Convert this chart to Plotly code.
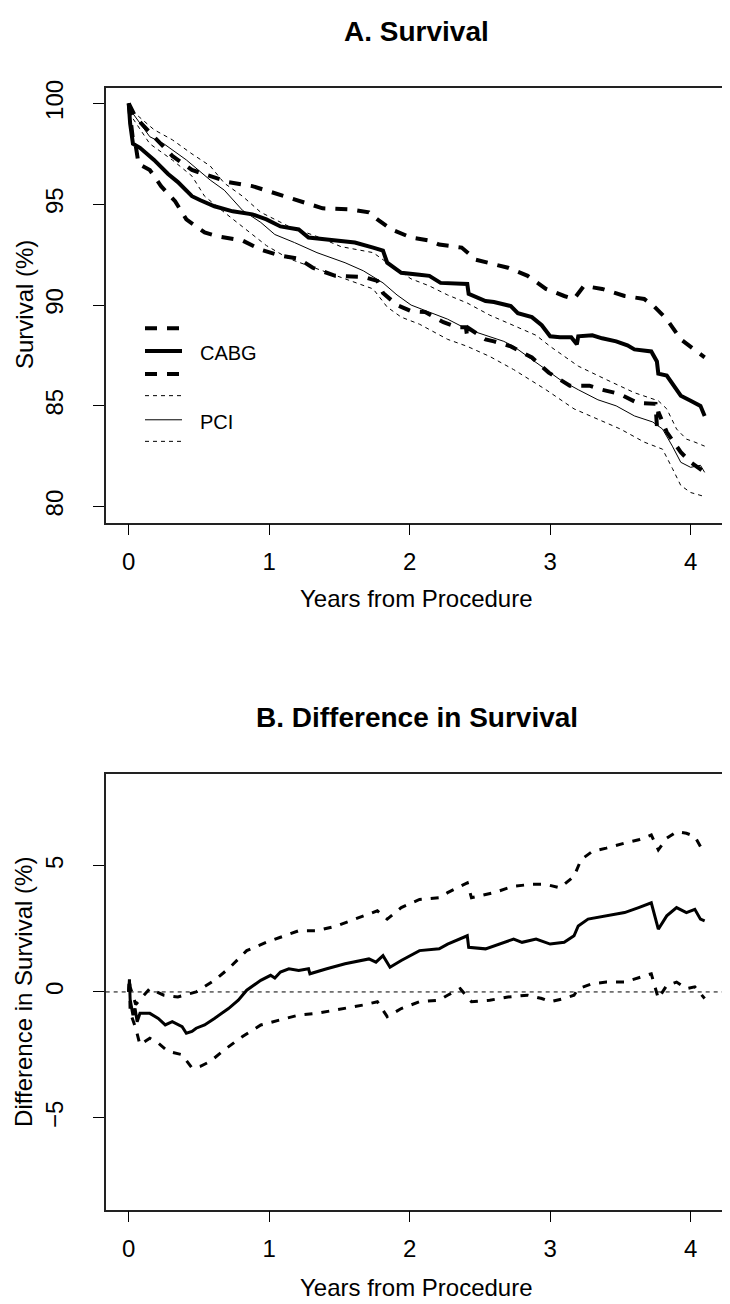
import plotly.graph_objects as go

# ---------------- data ----------------
# Panel A: Kaplan-Meier survival (%) with 95% CI
t_cabg = [0, 0.01, 0.03, 0.08, 0.18, 0.28, 0.35, 0.45, 0.51, 0.61, 0.74, 0.88, 0.98, 1.08, 1.21,
          1.28, 1.41, 1.61, 1.74, 1.81, 1.84, 1.94, 2.07, 2.14, 2.22, 2.41, 2.42, 2.54, 2.6, 2.72,
          2.77, 2.87, 2.94, 3.0, 3.07, 3.15, 3.19, 3.2, 3.3, 3.37, 3.47, 3.55, 3.6, 3.72, 3.76,
          3.77, 3.83, 3.9, 3.93, 4.0, 4.07, 4.1]
s_cabg = [100, 99.0, 98.0, 97.8, 97.2, 96.5, 96.1, 95.4, 95.2, 94.9, 94.65, 94.5, 94.25, 93.9, 93.75,
          93.35, 93.25, 93.1, 92.85, 92.7, 92.1, 91.6, 91.5, 91.45, 91.1, 91.05, 90.55, 90.2, 90.15, 89.95,
          89.6, 89.4, 89.0, 88.45, 88.4, 88.4, 88.05, 88.45, 88.5, 88.35, 88.2, 88.0, 87.8, 87.7, 87.2,
          86.6, 86.5, 85.8, 85.5, 85.25, 85.0, 84.5]

t_cabg_hi = [0, 0.05, 0.18, 0.31, 0.45, 0.58, 0.71, 0.88, 1.04, 1.21, 1.38, 1.57, 1.71, 1.77, 1.87,
             2.01, 2.14, 2.21, 2.37, 2.47, 2.7, 2.84, 2.97, 3.1, 3.17, 3.24, 3.37, 3.53, 3.67, 3.73,
             3.83, 3.93, 4.07, 4.1]
s_cabg_hi = [100, 99.3, 98.35, 97.4, 96.7, 96.4, 96.1, 95.9, 95.55, 95.2, 94.8, 94.75, 94.6, 94.25, 93.75,
             93.35, 93.2, 93.0, 92.85, 92.25, 91.85, 91.45, 90.8, 90.45, 90.3, 90.95, 90.8, 90.45, 90.3, 90.0,
             89.3, 88.3, 87.6, 87.4]

t_cabg_lo = [0, 0.03, 0.05, 0.07, 0.15, 0.23, 0.33, 0.41, 0.54, 0.64, 0.81, 0.94, 1.08, 1.21, 1.31,
             1.47, 1.67, 1.77, 1.81, 1.91, 2.01, 2.11, 2.24, 2.34, 2.40, 2.41, 2.42, 2.54, 2.6, 2.72,
             2.87, 2.99, 3.14, 3.28, 3.37, 3.49, 3.62, 3.75, 3.76, 3.77, 3.83, 3.93, 4.0, 4.1]
s_cabg_lo = [100, 98.2, 97.9, 97.0, 96.7, 95.9, 95.15, 94.25, 93.6, 93.4, 93.2, 92.75, 92.45, 92.3, 91.85,
             91.45, 91.4, 91.2, 90.6, 90.0, 89.7, 89.65, 89.15, 88.9, 88.9, 88.4, 88.85, 88.3, 88.2, 87.95,
             87.4, 86.65, 86.0, 86.0, 85.8, 85.6, 85.15, 85.1, 84.0, 84.7, 83.7, 82.7, 82.2, 81.7]

t_pci = [0, 0.03, 0.15, 0.25, 0.41, 0.58, 0.68, 0.81, 0.94, 1.04, 1.18, 1.34, 1.54, 1.67, 1.81,
         1.91, 2.01, 2.14, 2.27, 2.41, 2.54, 2.67, 2.74, 2.87, 2.94, 3.07, 3.2, 3.34, 3.47, 3.6,
         3.73, 3.8, 3.87, 3.93, 4.0, 4.07, 4.1]
s_pci = [100, 99.5, 98.35, 98.0, 97.2, 96.2, 95.7, 94.7, 94.1, 93.5, 93.1, 92.6, 92.1, 91.7, 91.1,
         90.5, 90.0, 89.65, 89.3, 88.8, 88.5, 88.2, 87.95, 87.3, 86.97, 86.3, 85.8, 85.3, 85.0, 84.5,
         84.2, 83.85, 83.0, 82.2, 81.95, 82.05, 81.7]

t_pci_hi = [0, 0.03, 0.18, 0.31, 0.45, 0.58, 0.68, 0.81, 0.94, 1.14, 1.34, 1.51, 1.74, 1.87, 2.01,
            2.14, 2.27, 2.41, 2.57, 2.74, 2.9, 3.0, 3.2, 3.4, 3.6, 3.77, 3.83, 3.9, 3.97, 4.03, 4.1]
s_pci_hi = [100, 99.6, 98.7, 98.2, 97.5, 96.9, 96.05, 95.4, 94.6, 93.9, 93.4, 92.9, 92.6, 91.95, 91.3,
            90.95, 90.5, 90.1, 89.5, 89.0, 88.5, 87.95, 86.97, 86.3, 85.65, 85.25, 84.85, 83.85, 83.35, 83.2, 83.0]

t_pci_lo = [0, 0.03, 0.15, 0.31, 0.45, 0.54, 0.68, 0.81, 0.98, 1.14, 1.34, 1.54, 1.74, 1.84, 1.94,
            2.07, 2.27, 2.41, 2.57, 2.74, 2.97, 3.17, 3.34, 3.5, 3.67, 3.8, 3.87, 3.93, 4.0, 4.1]
s_pci_lo = [100, 99.25, 98.0, 97.2, 96.4, 95.4, 94.6, 93.9, 92.95, 92.3, 91.8, 91.3, 90.8, 89.9, 89.4,
            89.05, 88.3, 87.95, 87.45, 86.8, 85.8, 84.85, 84.35, 83.85, 83.2, 82.85, 81.9, 81.05, 80.7, 80.5]

# Panel B: difference in survival (CABG - PCI, %) with 95% CI
t_diff = [0, 0.005, 0.01, 0.03, 0.045, 0.06, 0.08, 0.15, 0.21, 0.26, 0.31, 0.38, 0.41, 0.45, 0.48,
          0.54, 0.61, 0.71, 0.78, 0.84, 0.94, 1.01, 1.04, 1.08, 1.14, 1.21, 1.28, 1.29, 1.41, 1.54,
          1.71, 1.76, 1.81, 1.86, 1.94, 2.07, 2.21, 2.27, 2.41, 2.42, 2.54, 2.67, 2.74, 2.80, 2.90,
          3.0, 3.1, 3.17, 3.2, 3.27, 3.40, 3.53, 3.63, 3.72, 3.77, 3.83, 3.9, 3.97, 4.03, 4.07, 4.1]
d_diff = [0, 0.5, -0.3, -0.92, -0.66, -1.18, -0.85, -0.85, -1.05, -1.31, -1.18, -1.38, -1.64, -1.57, -1.44,
          -1.31, -1.05, -0.66, -0.33, 0.07, 0.46, 0.66, 0.55, 0.79, 0.92, 0.85, 0.92, 0.72, 0.92, 1.12,
          1.31, 1.18, 1.44, 0.98, 1.25, 1.64, 1.71, 1.9, 2.23, 1.77, 1.71, 1.97, 2.1, 1.97, 2.1,
          1.9, 1.97, 2.23, 2.62, 2.89, 3.02, 3.15, 3.35, 3.54, 2.49, 3.02, 3.35, 3.15, 3.28, 2.89, 2.82]

t_diff_hi = [0, 0.005, 0.01, 0.05, 0.15, 0.25, 0.35, 0.48, 0.61, 0.71, 0.84, 0.98, 1.08, 1.21, 1.34,
             1.48, 1.61, 1.77, 1.84, 1.94, 2.07, 2.21, 2.27, 2.41, 2.44, 2.6, 2.74, 2.87, 2.97, 3.07,
             3.17, 3.22, 3.3, 3.40, 3.53, 3.63, 3.72, 3.77, 3.83, 3.9, 3.97, 4.03, 4.07, 4.1]
d_diff_hi = [0, 0.5, 0.2, -0.5, 0.13, -0.13, -0.2, 0.0, 0.46, 0.92, 1.64, 1.97, 2.17, 2.43, 2.43,
             2.62, 2.89, 3.22, 2.89, 3.35, 3.67, 3.74, 3.94, 4.33, 3.74, 3.94, 4.2, 4.27, 4.27, 4.13,
             4.59, 5.25, 5.58, 5.71, 5.91, 6.04, 6.23, 5.64, 6.1, 6.36, 6.3, 6.17, 5.77, 5.91]

t_diff_lo = [0, 0.005, 0.01, 0.05, 0.08, 0.15, 0.21, 0.28, 0.38, 0.45, 0.51, 0.58, 0.68, 0.81, 0.94,
             1.08, 1.21, 1.34, 1.48, 1.67, 1.77, 1.84, 1.94, 2.07, 2.21, 2.27, 2.36, 2.44, 2.57, 2.7,
             2.84, 2.94, 3.0, 3.1, 3.17, 3.2, 3.3, 3.4, 3.53, 3.72, 3.77, 3.83, 3.9, 3.97, 4.03, 4.1]
d_diff_lo = [0, 0.5, -0.8, -1.44, -2.1, -1.84, -2.03, -2.36, -2.49, -3.02, -2.95, -2.76, -2.3, -1.77, -1.31,
             -1.12, -0.92, -0.85, -0.72, -0.52, -0.39, -0.98, -0.66, -0.39, -0.33, -0.13, 0.13, -0.39, -0.33, -0.2,
             -0.13, -0.26, -0.39, -0.26, -0.13, 0.13, 0.33, 0.39, 0.39, 0.72, -0.26, 0.26, 0.39, 0.13, 0.2, -0.26]

x_ticks = [0, 1, 2, 3, 4]
yA_ticks = [80, 85, 90, 95, 100]
yB_ticks = [-5, 0, 5]
legend_labels = ["", "CABG", "", "", "PCI", ""]

# ---------------- layout constants (page pixels) ----------------
PAGE_W, PAGE_H = 730, 1304
OFF = 8                      # default body margin of the html page
W, H = PAGE_W - OFF, PAGE_H - OFF
BOX_L, BOX_R = 105.7, 727.7
A_TOP, A_BOT = 80.0, 517.7
B_TOP, B_BOT = 771.0, 1209.0
FONT = "Liberation Sans, Arial, Helvetica, sans-serif"
X_STANDOFF, Y_STANDOFF = 6, 20


def px(x):
    return (x - OFF) / W


def py(y):
    return 1 - (y - OFF) / H


THICK_DASH = dict(color="black", width=4, dash="12px,10px")
THICK = dict(color="black", width=4)
THIN_DASH = dict(color="black", width=1, dash="4px,4px")
THIN = dict(color="black", width=1)
B_DASH = dict(color="black", width=3, dash="8px,9px")
B_SOLID = dict(color="black", width=3)

fig = go.Figure()

panelA = [
    (t_cabg_hi, s_cabg_hi, THICK_DASH),
    (t_cabg, s_cabg, THICK),
    (t_cabg_lo, s_cabg_lo, THICK_DASH),
    (t_pci_hi, s_pci_hi, THIN_DASH),
    (t_pci, s_pci, THIN),
    (t_pci_lo, s_pci_lo, THIN_DASH),
]
for (tx, sy, ln), lab in zip(panelA, legend_labels):
    fig.add_trace(go.Scatter(x=tx, y=sy, mode="lines", line=ln, name=lab,
                             showlegend=False, hoverinfo="skip", xaxis="x", yaxis="y"))

for tx, dy, ln in [(t_diff_hi, d_diff_hi, B_DASH), (t_diff, d_diff, B_SOLID), (t_diff_lo, d_diff_lo, B_DASH)]:
    fig.add_trace(go.Scatter(x=tx, y=dy, mode="lines", line=ln, showlegend=False,
                             hoverinfo="skip", xaxis="x2", yaxis="y2"))

axis_common = dict(
    showline=True, linecolor="#222222", linewidth=1.5, mirror=True,
    ticks="outside", ticklen=11, tickwidth=1, tickcolor="black",
    showgrid=False, zeroline=False,
    tickfont=dict(family=FONT, size=24, color="black"),
)

xrng = [-0.164, 4.264]
fig.update_layout(
    width=W, height=H,
    margin=dict(l=0, r=0, t=0, b=0),
    paper_bgcolor="white", plot_bgcolor="white",
    showlegend=False,
    xaxis=dict(domain=[px(BOX_L), px(BOX_R)], range=xrng, tickvals=x_ticks, anchor="y",
               ticklabelstandoff=X_STANDOFF, **axis_common),
    yaxis=dict(domain=[py(A_BOT), py(A_TOP)], range=[79.21, 100.79], tickvals=yA_ticks,
               tickangle=-90, ticklabelstandoff=Y_STANDOFF, anchor="x", **axis_common),
    xaxis2=dict(domain=[px(BOX_L), px(BOX_R)], range=xrng, tickvals=x_ticks, anchor="y2",
                ticklabelstandoff=X_STANDOFF, **axis_common),
    yaxis2=dict(domain=[py(B_BOT), py(B_TOP)], range=[-8.64, 8.64], tickvals=yB_ticks,
                tickangle=-90, ticklabelstandoff=Y_STANDOFF, anchor="x2", **axis_common),
)

# reference line at zero difference
fig.add_shape(type="line", xref="x2 domain", x0=0, x1=1, yref="y2", y0=0, y1=0,
              line=dict(color="black", width=1, dash="4px,4px"))

# titles and axis titles
cx = px((BOX_L + BOX_R) / 2)
texts = [
    ("<b>A. Survival</b>", cx, py(23.5), 28, 0),
    ("<b>B. Difference in Survival</b>", cx, py(714.3), 28, 0),
    ("Years from Procedure", cx, py(594.3), 24, 0),
    ("Years from Procedure", cx, py(1287.6), 24, 0),
    ("Survival (%)", px(24), py((A_TOP + A_BOT) / 2), 24, -90),
    ("Difference in Survival (%)", px(24), py((B_TOP + B_BOT) / 2), 24, -90),
]
for txt, x, y, size, ang in texts:
    fig.add_annotation(text=txt, x=x, y=y, xref="paper", yref="paper", showarrow=False,
                       xanchor="center", yanchor="middle", textangle=ang,
                       font=dict(family=FONT, size=size, color="black"))

# legend (R-style key drawn inside panel A)
leg_rows = [322.3, 345.0, 368.3, 390.0, 414.3, 436.0]
leg_styles = [THICK_DASH, THICK, THICK_DASH, THIN_DASH, THIN, THIN_DASH]
for yrow, ln, lab in zip(leg_rows, leg_styles, legend_labels):
    fig.add_shape(type="line", xref="paper", yref="paper", x0=px(145), x1=px(182),
                  y0=py(yrow), y1=py(yrow), line=ln)
    if lab:
        fig.add_annotation(text=lab, x=px(197.5), y=py(yrow + 2.5), xref="paper", yref="paper",
                           showarrow=False, xanchor="left", yanchor="middle",
                           font=dict(family=FONT, size=20, color="black"))

fig.write_html("out.html")
